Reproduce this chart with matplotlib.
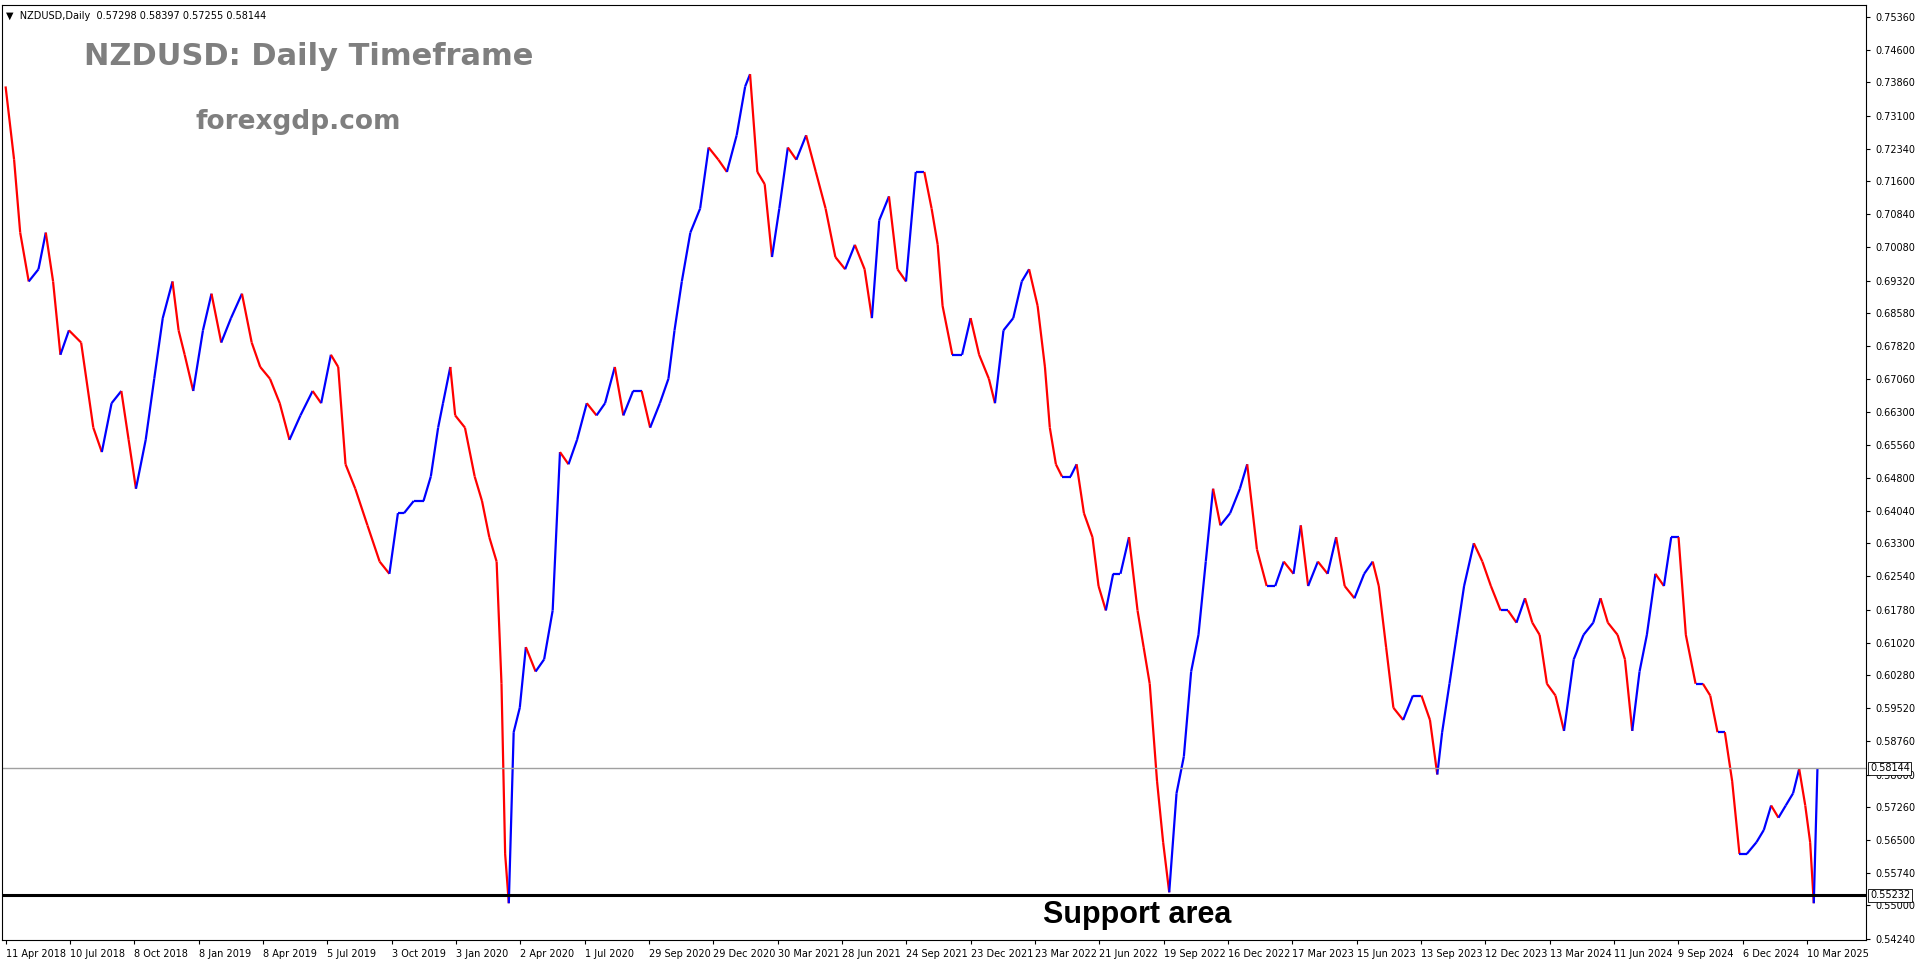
import matplotlib
matplotlib.use("Agg")
import matplotlib.pyplot as plt

# (bar position, close price)
points = [
 (3,0.7377),(10,0.7209),(15,0.7042),(22,0.6930),(30,0.6958),(36,0.7042),(42,0.6930),(48,0.6762),(55,0.6818),(65,0.6790),
 (75,0.6595),(82,0.6539),(90,0.6651),(98,0.6679),(104,0.6567),(110,0.6455),(118,0.6567),(125,0.6707),(132,0.6846),(140,0.6930),
 (145,0.6818),(150,0.6762),(157,0.6679),(165,0.6818),(172,0.6902),(180,0.6790),(188,0.6846),(197,0.6902),(205,0.6790),(212,0.6734),
 (220,0.6707),(228,0.6651),(236,0.6567),(245,0.6623),(255,0.6679),(262,0.6651),(270,0.6762),(276,0.6734),(282,0.6511),(290,0.6455),
 (300,0.6371),(310,0.6288),(318,0.6260),(325,0.6399),(330,0.6399),(338,0.6427),(346,0.6427),(352,0.6483),(358,0.6595),(362,0.6651),
 (368,0.6734),(372,0.6623),(380,0.6595),(388,0.6483),(394,0.6427),(400,0.6344),(406,0.6288),(410,0.6008),(413,0.5618),(416,0.5505),
 (420,0.5897),(425,0.5953),(430,0.6092),(438,0.6036),(445,0.6064),(452,0.6176),(458,0.6539),(465,0.6511),(472,0.6567),(480,0.6651),
 (488,0.6623),(495,0.6651),(503,0.6734),(510,0.6623),(518,0.6679),(525,0.6679),(532,0.6595),(540,0.6651),(547,0.6707),(552,0.6818),
 (558,0.6930),(565,0.7042),(573,0.7097),(580,0.7237),(588,0.7209),(595,0.7181),(603,0.7265),(610,0.7377),(614,0.7405),(620,0.7181),
 (626,0.7153),(632,0.6986),(638,0.7097),(645,0.7237),(652,0.7209),(660,0.7265),(668,0.7181),(676,0.7097),(684,0.6986),(692,0.6958),
 (700,0.7014),(708,0.6958),(714,0.6846),(720,0.7070),(728,0.7125),(735,0.6958),(742,0.6930),(750,0.7181),(757,0.7181),(763,0.7097),
 (768,0.7014),(772,0.6874),(780,0.6762),(788,0.6762),(795,0.6846),(802,0.6762),(810,0.6707),(815,0.6651),(822,0.6818),(830,0.6846),
 (837,0.6930),(843,0.6958),(850,0.6874),(856,0.6734),(860,0.6595),(865,0.6511),(870,0.6483),(877,0.6483),(882,0.6511),(888,0.6399),
 (895,0.6344),(900,0.6232),(906,0.6176),(912,0.6260),(918,0.6260),(925,0.6344),(932,0.6176),(937,0.6092),(942,0.6008),(948,0.5785),
 (953,0.5645),(958,0.5530),(964,0.5757),(970,0.5841),(976,0.6036),(982,0.6120),(988,0.6288),(994,0.6455),(1000,0.6371),(1008,0.6399),
 (1016,0.6455),(1022,0.6511),(1030,0.6316),(1038,0.6232),(1045,0.6232),(1052,0.6288),(1060,0.6260),(1066,0.6371),(1072,0.6232),(1080,0.6288),
 (1088,0.6260),(1095,0.6344),(1102,0.6232),(1110,0.6204),(1118,0.6260),(1125,0.6288),(1130,0.6232),(1136,0.6092),(1142,0.5953),(1150,0.5925),
 (1158,0.5981),(1165,0.5981),(1172,0.5925),(1178,0.5800),(1182,0.5897),(1188,0.6008),(1194,0.6120),(1200,0.6232),(1208,0.6330),(1215,0.6288),
 (1222,0.6232),(1230,0.6176),(1236,0.6176),(1243,0.6148),(1250,0.6204),(1256,0.6148),(1262,0.6120),(1268,0.6008),(1275,0.5981),(1282,0.5900),
 (1290,0.6064),(1298,0.6120),(1306,0.6148),(1312,0.6204),(1318,0.6148),(1326,0.6120),(1332,0.6064),(1338,0.5900),(1344,0.6036),(1350,0.6120),
 (1357,0.6260),(1364,0.6232),(1370,0.6344),(1376,0.6344),(1382,0.6120),(1390,0.6008),(1396,0.6008),(1402,0.5981),(1408,0.5897),(1414,0.5897),
 (1420,0.5785),(1426,0.5618),(1432,0.5618),(1440,0.5645),(1446,0.5673),(1452,0.5729),(1458,0.5701),(1464,0.5729),(1470,0.5757),(1475,0.5813),
 (1480,0.5729),(1484,0.5645),(1487,0.5505),(1490,0.5814),
]
days = [p[0] for p in points]
closes = [p[1] for p in points]

y_ticks = [0.54240,0.55000,0.55740,0.56500,0.57260,0.58000,0.58760,0.59520,0.60280,0.61020,0.61780,0.62540,0.63300,0.64040,
           0.64800,0.65560,0.66300,0.67060,0.67820,0.68580,0.69320,0.70080,0.70840,0.71600,0.72340,0.73100,0.73860,0.74600,0.75360]
x_labels = ["11 Apr 2018","10 Jul 2018","8 Oct 2018","8 Jan 2019","8 Apr 2019","5 Jul 2019","3 Oct 2019","3 Jan 2020",
            "2 Apr 2020","1 Jul 2020","29 Sep 2020","29 Dec 2020","30 Mar 2021","28 Jun 2021","24 Sep 2021","23 Dec 2021",
            "23 Mar 2022","21 Jun 2022","19 Sep 2022","16 Dec 2022","17 Mar 2023","15 Jun 2023","13 Sep 2023","12 Dec 2023",
            "13 Mar 2024","11 Jun 2024","9 Sep 2024","6 Dec 2024","10 Mar 2025"]
current_price = 0.58144
support = 0.55232

fig = plt.figure(figsize=(19.16, 9.64), dpi=100)
ax = fig.add_axes([0.001, 0.025, 0.973, 0.97])
ax.set_facecolor("white")
for i in range(1, len(days)):
    c = "#0000ff" if closes[i] >= closes[i-1] else "#ff0000"
    ax.plot([days[i-1], days[i]], [closes[i-1], closes[i]], color=c, lw=1.6, solid_capstyle="butt")

ax.axhline(current_price, color="#a0a0a0", lw=1)
ax.axhline(support, color="black", lw=2.2)
ax.set_xlim(0, 1530)
ax.set_ylim(0.5421, 0.7564)
ax.yaxis.tick_right()
ax.set_yticks(y_ticks)
ax.set_yticklabels([f"{v:.5f}" for v in y_ticks], fontsize=7)
ax.set_xticks([3 + 52.8*i for i in range(len(x_labels))])
ax.set_xticklabels(x_labels, fontsize=7, ha="left")
ax.tick_params(length=3)
for s in ax.spines.values():
    s.set_color("black"); s.set_linewidth(0.8)

for val in (current_price, support):
    ax.text(1.002, val, f"{val:.5f}", transform=ax.get_yaxis_transform(), fontsize=7, va="center", ha="left",
            color="black", bbox=dict(boxstyle="square,pad=0.15", fc="white", ec="black", lw=0.6))

ax.text(0.002, 0.993, "▼  NZDUSD,Daily  0.57298 0.58397 0.57255 0.58144", transform=ax.transAxes, fontsize=7, va="top")
ax.text(0.044, 0.945, "NZDUSD: Daily Timeframe", transform=ax.transAxes, fontsize=22, fontweight="bold", color="#7f7f7f", va="center")
ax.text(0.104, 0.875, "forexgdp.com", transform=ax.transAxes, fontsize=19, fontweight="bold", color="#7f7f7f", va="center")
ax.text(932, 0.5478, "Support area", fontsize=22, fontweight="bold", color="black", ha="center", va="center", family="Liberation Sans")

fig.savefig("out.png", dpi=100, facecolor="white")
